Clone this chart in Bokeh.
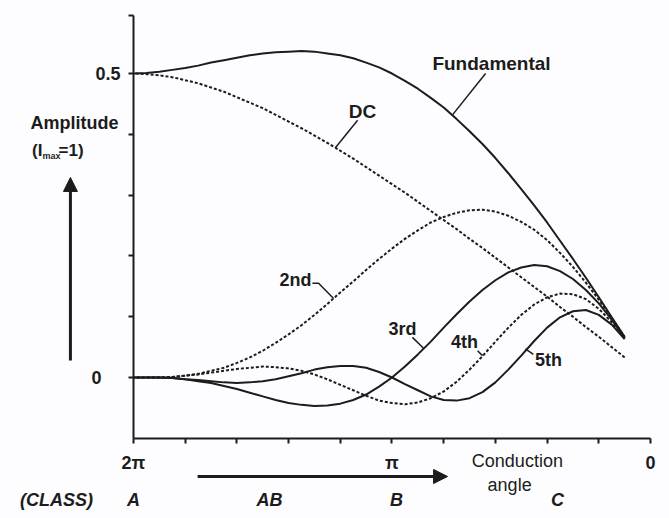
from bokeh.plotting import figure
from bokeh.models import Range1d, FixedTicker, CustomJSTickFormatter, Label, Arrow, NormalHead
from bokeh.embed import file_html
from bokeh.resources import INLINE

# Conduction angle in units of pi (2 = 2*pi ... 0.1 = 0.1*pi)
angle_pi = [0.10, 0.15, 0.20, 0.25, 0.30, 0.35, 0.40, 0.45, 0.50, 0.55,
            0.60, 0.65, 0.70, 0.75, 0.80, 0.85, 0.90, 0.95, 1.00, 1.05,
            1.10, 1.15, 1.20, 1.25, 1.30, 1.35, 1.40, 1.45, 1.50, 1.55,
            1.60, 1.65, 1.70, 1.75, 1.80, 1.85, 1.90, 1.95, 2.00]

dc = [0.033, 0.050, 0.067, 0.083, 0.100, 0.116, 0.133, 0.149, 0.165, 0.181,
      0.197, 0.213, 0.228, 0.244, 0.259, 0.274, 0.289, 0.304, 0.318, 0.332,
      0.346, 0.360, 0.373, 0.386, 0.398, 0.410, 0.421, 0.432, 0.443, 0.452,
      0.461, 0.470, 0.477, 0.484, 0.489, 0.494, 0.497, 0.499, 0.500]

fundamental = [0.067, 0.099, 0.132, 0.164, 0.195, 0.225, 0.255, 0.283, 0.310, 0.336,
               0.361, 0.384, 0.405, 0.425, 0.444, 0.460, 0.475, 0.488, 0.500, 0.510,
               0.518, 0.525, 0.530, 0.533, 0.536, 0.537, 0.536, 0.535, 0.533, 0.530,
               0.526, 0.522, 0.518, 0.513, 0.509, 0.506, 0.503, 0.501, 0.500]

second = [0.066, 0.098, 0.128, 0.156, 0.182, 0.205, 0.226, 0.243, 0.256, 0.266,
          0.273, 0.276, 0.275, 0.271, 0.264, 0.255, 0.242, 0.228, 0.212, 0.195,
          0.177, 0.158, 0.140, 0.121, 0.103, 0.086, 0.071, 0.057, 0.044, 0.033,
          0.024, 0.016, 0.011, 0.006, 0.003, 0.001, 0.000, 0.000, 0.000]

third = [0.065, 0.095, 0.122, 0.144, 0.162, 0.175, 0.183, 0.185, 0.181, 0.173,
         0.160, 0.144, 0.125, 0.104, 0.082, 0.059, 0.038, 0.018, 0.000, -0.015,
         -0.028, -0.037, -0.043, -0.046, -0.047, -0.045, -0.042, -0.037, -0.031, -0.025,
         -0.019, -0.014, -0.009, -0.006, -0.003, -0.001, 0.000, 0.000, 0.000]

fourth = [0.064, 0.091, 0.113, 0.129, 0.137, 0.138, 0.132, 0.120, 0.103, 0.082,
          0.059, 0.035, 0.013, -0.007, -0.023, -0.034, -0.041, -0.044, -0.042, -0.038,
          -0.030, -0.021, -0.012, -0.003, 0.005, 0.011, 0.015, 0.017, 0.018, 0.016,
          0.014, 0.011, 0.008, 0.005, 0.003, 0.001, 0.000, 0.000, 0.000]

fifth = [0.063, 0.087, 0.103, 0.111, 0.109, 0.099, 0.082, 0.060, 0.036, 0.013,
         -0.008, -0.024, -0.034, -0.038, -0.037, -0.031, -0.021, -0.011, 0.000, 0.009,
         0.016, 0.019, 0.019, 0.017, 0.013, 0.007, 0.002, -0.003, -0.006, -0.008,
         -0.009, -0.008, -0.006, -0.004, -0.003, -0.001, 0.000, 0.000, 0.000]

x_major = [0, 1, 2]
x_minor = [0.2, 0.4, 0.6, 0.8, 1.2, 1.4, 1.6, 1.8]
y_minor = [0, 0.1, 0.2, 0.3, 0.4, 0.5, 0.595]

INK = "#1c1c1c"
BG = "#fdfcfe"
FONT = "Liberation Sans"
DASH = "3 2"

p = figure(width=669, height=518,
           x_range=Range1d(2.5145, -0.0735), y_range=Range1d(-0.2319, 0.6201),
           output_backend="svg", toolbar_location=None,
           min_border=0, min_border_left=0, min_border_right=0,
           min_border_top=0, min_border_bottom=0,
           background_fill_color=BG, border_fill_color=BG)
p.grid.visible = False
p.outline_line_color = None

# axes drawn at fixed positions inside the frame
p.xaxis.fixed_location = -0.1
p.xaxis.bounds = (0, 2)
p.yaxis.fixed_location = 2.0
p.yaxis.bounds = (-0.1, 0.595)

for ax in (p.xaxis[0], p.yaxis[0]):
    ax.axis_line_width = 2
    ax.axis_line_color = INK
    ax.major_tick_line_width = 2
    ax.major_tick_line_color = INK
    ax.major_tick_in = 0
    ax.major_tick_out = 5
    ax.minor_tick_line_width = 2
    ax.minor_tick_line_color = INK
    ax.minor_tick_in = 0
    ax.minor_tick_out = 5

p.xaxis.ticker = FixedTicker(ticks=x_major, minor_ticks=x_minor)
p.xaxis.formatter = CustomJSTickFormatter(code="""
    if (Math.abs(tick - 2) < 1e-6) return '2\u03c0';
    if (Math.abs(tick - 1) < 1e-6) return '\u03c0';
    return '0';
""")
p.xaxis.major_label_text_font = FONT
p.xaxis.major_label_text_font_style = "bold"
p.xaxis.major_label_text_font_size = "18px"
p.xaxis.major_label_text_color = INK
p.xaxis.major_label_standoff = 10

p.yaxis.ticker = FixedTicker(ticks=[], minor_ticks=y_minor)

# curves
p.line(angle_pi, fundamental, line_width=2, color=INK)
p.line(angle_pi, dc, line_width=2, color=INK, line_dash=DASH)
p.line(angle_pi, second, line_width=2, color=INK, line_dash=DASH)
p.line(angle_pi, third, line_width=2, color=INK)
p.line(angle_pi, fourth, line_width=2, color=INK, line_dash=DASH)
p.line(angle_pi, fifth, line_width=2, color=INK)

# leader lines from labels to curves
leaders = [
    ([0.638, 0.766], [0.500, 0.432]),
    ([1.133, 1.219], [0.423, 0.378]),
    ([1.308, 1.284, 1.226], [0.155, 0.155, 0.130]),
    ([0.921, 0.878], [0.066, 0.048]),
    ([0.669, 0.650], [0.044, 0.036]),
    ([0.453, 0.484], [0.038, 0.047]),
]
for lx, ly in leaders:
    p.line(lx, ly, line_width=1.5, color=INK)


def lab(x, y, text, size="18px", style="bold", align="center", font=FONT):
    p.add_layout(Label(x=x, y=y, text=text, text_font=font,
                       text_font_size=size, text_font_style=style,
                       text_color=INK, text_align=align,
                       text_baseline="middle"))


lab(0.615, 0.516, "Fundamental", size="19px")
lab(1.114, 0.4375, "DC", size="19px")
lab(1.373, 0.161, "2nd")
lab(0.959, 0.0806, "3rd")
lab(0.720, 0.0576, "4th")
lab(0.395, 0.028, "5th")

# y axis texts
lab(2.050, 0.5, "0.5", align="right")
lab(2.124, 0.0, "0", align="right")
lab(2.228, 0.4178, "Amplitude")
lab(2.352, 0.3734, "(I", size="17px", align="right")
lab(2.352, 0.364, "max", size="9px", align="left")
lab(2.290, 0.3734, "=1)", size="17px", align="left")

# x axis texts
lab(0.515, -0.138, "Conduction", size="18px", style="normal")
lab(0.545, -0.176, "angle", size="18px", style="normal")
lab(2.298, -0.2007, "(CLASS)", style="bold italic")
lab(2.000, -0.2007, "A", style="bold italic")
lab(1.474, -0.2007, "AB", style="bold italic")
lab(0.983, -0.2007, "B", style="bold italic")
lab(0.360, -0.2007, "C", style="bold italic")

p.add_layout(Arrow(x_start=2.244, y_start=0.028, x_end=2.244, y_end=0.329,
                   line_width=3, line_color=INK,
                   end=NormalHead(size=14, fill_color=INK, line_color=INK)))
p.add_layout(Arrow(x_start=1.752, y_start=-0.1628, x_end=0.785, y_end=-0.1628,
                   line_width=3, line_color=INK,
                   end=NormalHead(size=14, fill_color=INK, line_color=INK)))

open("out.html", "w").write(file_html(p, INLINE))
